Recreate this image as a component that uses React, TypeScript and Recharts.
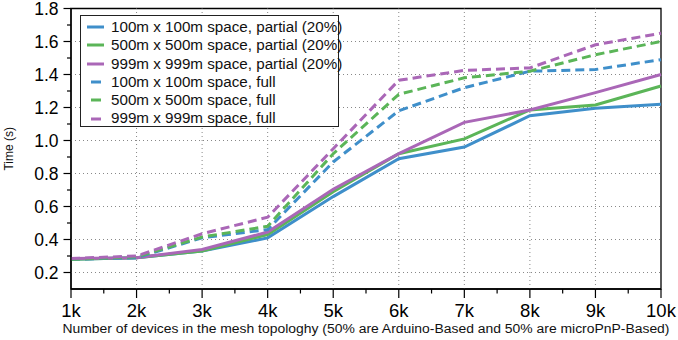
import React from 'react';
import { LineChart, Line, XAxis, YAxis, ReferenceLine, ReferenceArea, Legend, Label } from 'recharts';

const devices = [1, 2, 3, 4, 5, 6, 7, 8, 9, 10];
const partial100 = [0.28, 0.29, 0.33, 0.41, 0.66, 0.89, 0.96, 1.15, 1.195, 1.22];
const partial500 = [0.28, 0.29, 0.33, 0.43, 0.69, 0.92, 1.01, 1.185, 1.215, 1.33];
const partial999 = [0.285, 0.29, 0.34, 0.445, 0.705, 0.92, 1.11, 1.185, 1.29, 1.4];
const full100 = [0.28, 0.29, 0.41, 0.46, 0.87, 1.18, 1.32, 1.42, 1.43, 1.49];
const full500 = [0.28, 0.295, 0.415, 0.48, 0.92, 1.28, 1.38, 1.42, 1.52, 1.6];
const full999 = [0.285, 0.3, 0.435, 0.535, 0.95, 1.365, 1.425, 1.44, 1.58, 1.65];

const xMajor = [1, 2, 3, 4, 5, 6, 7, 8, 9, 10];
const xMinor = [1.5, 2.5, 3.5, 4.5, 5.5, 6.5, 7.5, 8.5, 9.5];
const yMajor = [0.2, 0.4, 0.6, 0.8, 1.0, 1.2, 1.4, 1.6, 1.8];
const yMinor = [0.3, 0.5, 0.7, 0.9, 1.1, 1.3, 1.5, 1.7];

const X_TITLE = 'Number of devices in the mesh topologhy (50% are Arduino-Based and 50% are microPnP-Based)';
const Y_TITLE = 'Time (s)';

const BLUE = '#3f8fca';
const GREEN = '#5bb558';
const PURPLE = '#aa67b7';

const series = [
  { key: 'p100', name: '100m x 100m space, partial (20%)', values: partial100, color: BLUE, dashed: false },
  { key: 'p500', name: '500m x 500m space, partial (20%)', values: partial500, color: GREEN, dashed: false },
  { key: 'p999', name: '999m x 999m space, partial (20%)', values: partial999, color: PURPLE, dashed: false },
  { key: 'f100', name: '100m x 100m space, full', values: full100, color: BLUE, dashed: true },
  { key: 'f500', name: '500m x 500m space, full', values: full500, color: GREEN, dashed: true },
  { key: 'f999', name: '999m x 999m space, full', values: full999, color: PURPLE, dashed: true },
];

const data = devices.map((d, i) => {
  const row: any = { x: d };
  series.forEach((s) => { row[s.key] = s.values[i]; });
  return row;
});

const FONT = '"Liberation Sans", Arial, Helvetica, sans-serif';

const XTick = (props: any) => {
  const { x, y, payload } = props;
  const major = xMajor.includes(payload.value);
  return (
    <g>
      <line x1={x} x2={x} y1={y} y2={y + (major ? 9 : 4.5)} stroke="#000" strokeWidth={1.2} />
      {major && (
        <text x={x} y={y + 27.5} textAnchor="middle" fontSize={18.5} fontFamily={FONT} fill="#000">
          {payload.value + 'k'}
        </text>
      )}
    </g>
  );
};

const YTick = (props: any) => {
  const { x, y, payload } = props;
  const major = yMajor.some((v) => Math.abs(v - payload.value) < 1e-6);
  return (
    <g>
      <line x1={x - (major ? 7.5 : 4)} x2={x} y1={y} y2={y} stroke="#000" strokeWidth={1.2} />
      {major && (
        <text x={x - 12.5} y={y} dy="0.36em" textAnchor="end" fontSize={17.5} fontFamily={FONT} fill="#000">
          {payload.value.toFixed(1)}
        </text>
      )}
    </g>
  );
};

const XTitle = (props: any) => {
  const vb = props.viewBox || {};
  const cx = vb.x + vb.width / 2;
  return (
    <text
      x={cx}
      y={vb.y + 44}
      textAnchor="middle"
      fontFamily={FONT}
      fontSize={12.3}
      fill="#111"
      textLength={607}
      lengthAdjust="spacingAndGlyphs"
    >
      {X_TITLE}
    </text>
  );
};

const LegendBox = () => (
  <div
    style={{
      border: '1.3px solid #222',
      background: '#fff',
      width: 259,
      height: 112,
      boxSizing: 'border-box',
      padding: '2px 0 0 6px',
      fontFamily: FONT,
      fontSize: 15.2,
      lineHeight: '18.3px',
      color: '#111',
    }}
  >
    {series.map((s) => (
      <div key={s.key} style={{ display: 'flex', alignItems: 'center', height: 18.3, whiteSpace: 'nowrap' }}>
        <svg width={18} height={10} style={{ marginRight: 6, flex: 'none' }}>
          {s.dashed ? (
            <line x1={4} x2={14} y1={5} y2={5} stroke={s.color} strokeWidth={3} />
          ) : (
            <line x1={0} x2={17} y1={5} y2={5} stroke={s.color} strokeWidth={3} />
          )}
        </svg>
        <span>{s.name}</span>
      </div>
    ))}
  </div>
);

export default function App() {
  return (
    <div style={{ position: 'absolute', left: 0, top: 0, width: 678, height: 340, background: '#fff' }}>
      <LineChart width={678} height={340} data={data} margin={{ top: 8.5, right: 17, bottom: 0, left: 11 }}>
        {yMajor.slice(0, -1).map((v) => (
          <ReferenceLine key={'gy' + v} y={v} stroke="#888" strokeDasharray="1 3" strokeWidth={1} />
        ))}
        {xMajor.slice(1, -1).map((v) => (
          <ReferenceLine key={'gx' + v} x={v} stroke="#888" strokeDasharray="1 3" strokeWidth={1} />
        ))}
        <XAxis
          dataKey="x"
          type="number"
          domain={[1, 10]}
          ticks={[...xMajor, ...xMinor].sort((a, b) => a - b)}
          interval={0}
          tickSize={0}
          tickMargin={0}
          tickLine={false}
          tick={<XTick />}
          height={51}
          axisLine={{ stroke: '#000', strokeWidth: 1.3 }}
        >
          <Label content={<XTitle />} />
        </XAxis>
        <YAxis
          type="number"
          domain={[0.1, 1.8]}
          ticks={[...yMajor, ...yMinor].sort((a, b) => a - b)}
          interval={0}
          tickSize={0}
          tickMargin={0}
          tickLine={false}
          tick={<YTick />}
          width={60}
          allowDataOverflow
          axisLine={{ stroke: '#000', strokeWidth: 1.3 }}
        >
          <Label
            value={Y_TITLE}
            angle={-90}
            position="insideLeft"
            offset={-2}
            style={{ fontFamily: FONT, fontSize: 12, fill: '#111', textAnchor: 'middle' }}
          />
        </YAxis>
        <ReferenceArea x1={1} x2={10} y1={0.1} y2={1.8} fill="none" stroke="#000" strokeWidth={1.3} />
        {series.map((s) => (
          <Line
            key={s.key}
            dataKey={s.key}
            name={s.name}
            stroke={s.color}
            strokeWidth={3}
            strokeDasharray={s.dashed ? '9 5' : undefined}
            dot={false}
            activeDot={false}
            isAnimationActive={false}
          />
        ))}
        <Legend
          layout="vertical"
          align="center"
          verticalAlign="middle"
          content={<LegendBox />}
          wrapperStyle={{ top: 15, left: 80, width: 259, height: 112 }}
        />
      </LineChart>
    </div>
  );
}
